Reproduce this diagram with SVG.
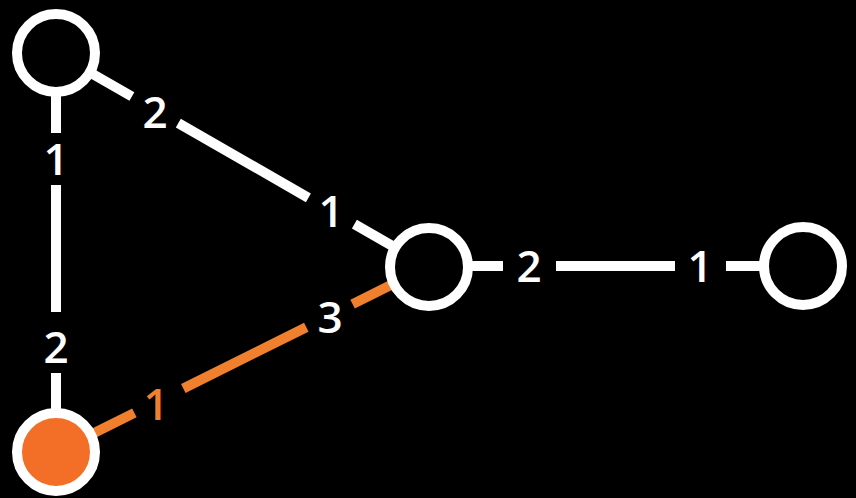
<svg xmlns="http://www.w3.org/2000/svg" width="856" height="498" viewBox="0 0 856 498">
<style>
.e{stroke:#fff;stroke-width:10;fill:none}
.o{stroke:#F07F2E;stroke-width:10;fill:none}
.n{fill:#000;stroke:#fff;stroke-width:10}
.t{font-family:"Open Sans","Liberation Sans",sans-serif;font-weight:600;font-size:44px;text-anchor:middle;fill:#fff}
.to{fill:#F07F2E}
</style>
<rect width="856" height="498" fill="#000"/>
<g id="connectors">
<path class="e" d="M56,53 L131.9,96.5 M178.3,123.2 L308.4,197.8 M354.4,224.2 L429,267"/>
<path class="e" d="M56,53 V133 M56,185 V312 M56,373 V452"/>
<path class="e" d="M429,266 H503 M556,266 H675 M726,266 H803"/>
<path class="o" d="M56,452 L134.4,412.9 M183.3,388.5 L306.3,327.2 M352.6,304.1 L429,266"/>
<text class="t" x="155" y="128">2</text>
<text class="t" x="331" y="227">1</text>
<text class="t" x="56" y="175">1</text>
<text class="t" x="56" y="363">2</text>
<text class="t" x="529" y="282">2</text>
<text class="t" x="700" y="282">1</text>
<text class="t to" x="156" y="420">1</text>
<text class="t" x="330" y="333">3</text>
</g>
<g id="node-a"><circle class="n" cx="56" cy="53" r="39"/></g>
<g id="node-b"><circle class="n" cx="429" cy="267" r="39"/></g>
<g id="node-c"><circle class="n" cx="803" cy="266" r="39"/></g>
<g id="node-d"><circle class="n" cx="56" cy="452" r="39" style="fill:#F36F27"/></g>
</svg>
